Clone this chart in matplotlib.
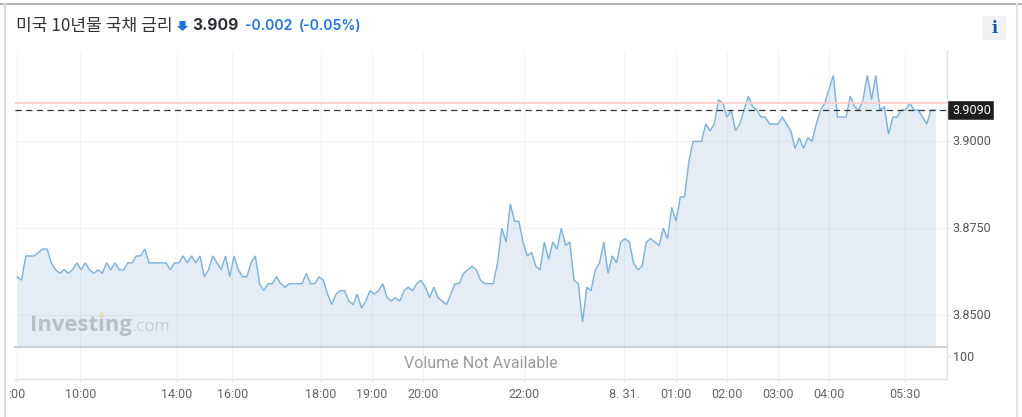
import matplotlib
matplotlib.use("Agg")
import matplotlib.pyplot as plt
from matplotlib.patches import Rectangle, Polygon
from matplotlib.lines import Line2D
from matplotlib.transforms import ScaledTranslation

yield_morning = [3.861,3.860,3.867,3.867,3.867,3.868,3.869,3.869,3.865,3.863,3.862,3.863,3.862,3.863,3.865,3.863,
                 3.865,3.863,3.862,3.863,3.862,3.865,3.863,3.865,3.863,3.863,3.865,3.865,3.867,3.867,3.869,3.865,
                 3.865,3.865,3.865,3.865,3.863,3.865,3.865,3.867,3.865,3.867,3.865,3.867,3.861,3.863,3.867,3.865,
                 3.863,3.867,3.861,3.867,3.863,3.861,3.861,3.865,3.867,3.859,3.857,3.859,3.859,3.861,3.859,3.858,
                 3.859,3.859,3.859,3.859,3.862,3.859,3.859,3.861,3.860,3.856,3.853,3.856,3.857]
yield_midday = [3.857,3.854,3.853,3.856,3.852,3.854,3.857,3.856,3.857,3.859,3.855,3.854,3.855,3.854,3.857,3.858,
                3.857,3.859,3.860,3.858,3.855,3.858,3.855,3.854,3.853,3.856,3.859,3.859,3.862,3.863,3.864,3.863,
                3.860,3.859,3.859,3.859,3.865,3.875,3.871,3.882,3.877,3.877,3.871,3.867,3.868,3.864,3.863,3.871,
                3.866,3.871,3.869,3.875,3.870,3.871,3.860,3.859,3.848,3.858,3.857,3.863,3.865,3.871,3.862,3.867,
                3.865,3.871,3.872,3.871,3.865,3.863,3.864,3.871,3.872,3.871,3.870,3.875,3.872,3.881,3.877]
yield_late = [3.884,3.884,3.894,3.900,3.900,3.900,3.905,3.903,3.905,3.912,3.911,3.907,3.909,3.903,3.905,3.909,
              3.913,3.910,3.909,3.907,3.907,3.905,3.905,3.905,3.907,3.905,3.903,3.898,3.901,3.898,3.901,3.900,
              3.905,3.909,3.911,3.915,3.919,3.907,3.907,3.907,3.913,3.910,3.909,3.912,3.919,3.912,3.919,3.909,
              3.910,3.902,3.907,3.907,3.909,3.909,3.911,3.909,3.909,3.907,3.905,3.909,3.909]
yields = yield_morning + yield_midday + yield_late

x_tick_pos = [0,14.8,37.6,50.6,71.5,83.5,95.5,119.3,142.8,155,167,179,191,208.9]
x_tick_labels = [":00","10:00","14:00","16:00","18:00","19:00","20:00","22:00","8. 31.","01:00","02:00","03:00","04:00","05:30"]
y_ticks = [3.85,3.875,3.90]
y_tick_labels = ["3.8500","3.8750","3.9000"]
last_price = 3.909
prev_close = 3.911
title = "미국 10년물 국채 금리"

W,H = 1022,417
fig = plt.figure(figsize=(W/100,H/100),dpi=100,facecolor="white")
def fx(x): return x/W
def fy(y): return 1-y/H
def txt(x,y,s,**k):
    k.setdefault("va","center")
    return fig.text(fx(x),fy(y),s,**k)

L,R,T,B,B2 = 15,947.3,51,347.3,379.3
ax = fig.add_axes([fx(L),fy(B),(R-L)/W,(B-T)/H])
vx = fig.add_axes([fx(L),fy(B2),(R-L)/W,(B2-B)/H])
x = list(range(len(yields)))
xl = ((L-17.3)/4.25,(R-17.3)/4.25)
ax.set_xlim(*xl); vx.set_xlim(*xl)
ax.set_ylim(3.85-(B-315)/3470,3.90+(141.3-T)/3470)
vx.set_ylim(0,1)

grid_color = "#1a334d"
grid_alpha = 0.05
for a in (ax,vx):
    a.set_facecolor("none")
    a.set_xticks(x_tick_pos)
    a.grid(axis="x",color=grid_color,alpha=grid_alpha,lw=0.8,zorder=0)
    for s in a.spines.values(): s.set_visible(False)
    a.spines["right"].set_visible(True); a.spines["right"].set_color("#dfe1e4"); a.spines["right"].set_linewidth(1)

ax.fill_between(x,yields,ax.get_ylim()[0],color="#e4edf5",lw=0,zorder=1)
ax.plot(x,yields,color="#7db4dc",lw=1.05,zorder=3,solid_joinstyle="miter")
ax.set_yticks(y_ticks); ax.set_yticklabels(y_tick_labels)
ax.grid(axis="y",color=grid_color,alpha=grid_alpha,lw=0.8,zorder=2)
ax.set_axisbelow(False)
ax.yaxis.tick_right()
ax.tick_params(axis="y",length=2.4,width=1,color="#dfe1e4",pad=1.5,labelsize=9,labelcolor="#555555")
up = ScaledTranslation(0,1/100,fig.dpi_scale_trans)
for t in ax.get_yticklabels():
    t.set_family("Roboto"); t.set_transform(t.get_transform()+up)
ax.tick_params(axis="x",length=0,labelbottom=False)
ax.axhline(prev_close,color="#ffc9c9",lw=1.2,zorder=4)
ax.axhline(last_price,color="#333333",lw=0.9,dashes=(5,3.5),zorder=5)
ax.spines["bottom"].set_visible(True); ax.spines["bottom"].set_color("#c6c9cd"); ax.spines["bottom"].set_linewidth(1.2)

vx.set_yticks([0.72]); vx.set_yticklabels(["100"])
vx.yaxis.tick_right()
vx.tick_params(axis="y",length=2.4,width=1,color="#dfe1e4",pad=1.5,labelsize=9,labelcolor="#555555")
for t in vx.get_yticklabels(): t.set_family("Roboto")
vx.set_xticklabels(x_tick_labels,family="Roboto",fontsize=9,color="#666666")
vx.tick_params(axis="x",length=2.4,width=1,color="#dfe1e4",pad=3.8)
vx.spines["bottom"].set_visible(True); vx.spines["bottom"].set_color("#dfe1e4"); vx.spines["bottom"].set_linewidth(1)

# frame
fig.add_artist(Line2D([0,1],[fy(4.3)]*2,color="#b3b3b3",lw=1.4))
fig.add_artist(Line2D([fx(4.5)]*2,[0,fy(4)],color="#d8d8d8",lw=1.4))
fig.add_artist(Line2D([fx(1017)]*2,[0,fy(4)],color="#e2e2e2",lw=1.4))

# heading
txt(16,26,title,family=["Noto Sans CJK KR","DejaVu Sans"],fontsize=12.3,color="#333333",fontweight="light")
fig.add_artist(Polygon([(fx(179.5),fy(21)),(fx(185.5),fy(21)),(fx(185.5),fy(26)),(fx(188),fy(26)),(fx(182.5),fy(31)),(fx(177),fy(26)),(fx(179.5),fy(26))],
                       closed=True,fc="#1a6fe0",ec="none",transform=fig.transFigure))
txt(192,26,"3.909",family="Inter",fontweight="bold",fontsize=11.3,color="#2a2e33")
txt(245,26,"-0.002",family="Inter",fontweight="semibold",fontsize=10,color="#1a73e8")
txt(299,26,"(-0.05%)",family="Inter",fontweight="semibold",fontsize=10,color="#1a73e8")

# info button
fig.add_artist(Rectangle((fx(982),fy(40)),24/W,24/H,fc="#f0f1f2",ec="none",transform=fig.transFigure))
txt(994,28.5,"i",family="DejaVu Serif",fontweight="bold",fontsize=11.5,color="#1256a8",ha="center")

# last price label
fig.add_artist(Rectangle((fx(947.5),fy(119)),45.5/W,18/H,fc="#1e1e1e",ec="#444444",lw=0.6,transform=fig.transFigure,zorder=10))
txt(971.5,110,"3.9090",family="Roboto",fontsize=9,color="white",ha="center",zorder=11)

# logo and notice
txt(29.5,325,"Investing",family="Open Sans",fontweight="bold",fontsize=15.8,color="#b9bfc5",zorder=6)
fig.add_artist(Rectangle((fx(99.5),fy(317)),4/W,4/H,fc="#ecdcb8",ec="none",transform=fig.transFigure,zorder=7))
txt(133,327,".com",family="Open Sans",fontweight="light",fontsize=12.4,color="#bcc3c9",zorder=6)
txt(481,363.5,"Volume Not Available",family="Roboto",fontsize=11.5,color="#999999",ha="center")

fig.savefig("out.png",dpi=100)
print(len(yields))
